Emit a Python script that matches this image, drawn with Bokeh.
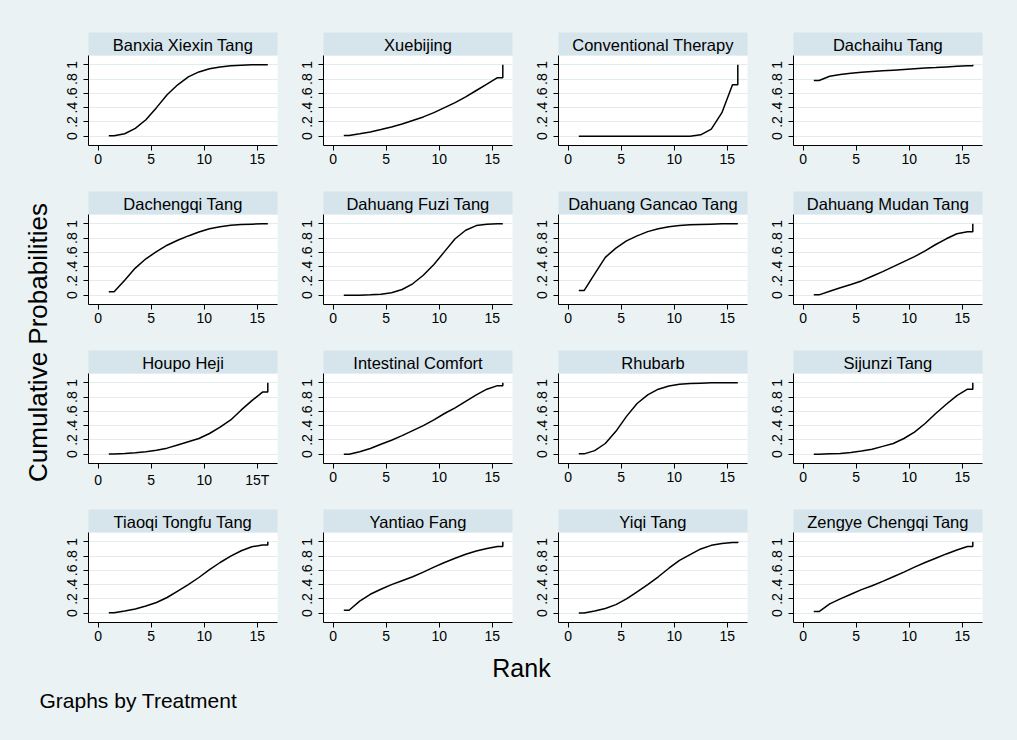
from bokeh.plotting import figure
from bokeh.models import LinearAxis, FixedTicker, Title, Range1d
from bokeh.layouts import gridplot, row, column
from bokeh.embed import file_html
from bokeh.resources import INLINE

# ---------------- data ----------------
treatments = [
    "Banxia Xiexin Tang", "Xuebijing", "Conventional Therapy", "Dachaihu Tang",
    "Dachengqi Tang", "Dahuang Fuzi Tang", "Dahuang Gancao Tang", "Dahuang Mudan Tang",
    "Houpo Heji", "Intestinal Comfort", "Rhubarb", "Sijunzi Tang",
    "Tiaoqi Tongfu Tang", "Yantiao Fang", "Yiqi Tang", "Zengye Chengqi Tang",
]
ranks = list(range(1, 17))

# cumulative probability of being ranked <= k, k = 1..15 (rank 16 -> 1)
cum_banxia = [0.005, 0.035, 0.11, 0.23, 0.40, 0.58, 0.72, 0.83, 0.90, 0.945, 0.97, 0.985, 0.995, 1.0, 1.0]
cum_xuebijing = [0.01, 0.033, 0.06, 0.094, 0.13, 0.17, 0.22, 0.27, 0.33, 0.40, 0.47, 0.55, 0.64, 0.73, 0.82]
cum_conventional = [0.0, 0.0, 0.0, 0.0, 0.0, 0.0, 0.0, 0.0, 0.0, 0.0, 0.0, 0.02, 0.10, 0.33, 0.72]
cum_dachaihu = [0.78, 0.84, 0.865, 0.88, 0.895, 0.905, 0.915, 0.925, 0.935, 0.945, 0.955, 0.962, 0.97, 0.978, 0.985]
cum_dachengqi = [0.047, 0.21, 0.38, 0.51, 0.61, 0.70, 0.77, 0.83, 0.885, 0.93, 0.96, 0.98, 0.99, 0.995, 1.0]
cum_fuzi = [0.0, 0.0, 0.005, 0.015, 0.035, 0.08, 0.16, 0.28, 0.43, 0.61, 0.79, 0.91, 0.975, 0.995, 1.0]
cum_gancao = [0.065, 0.30, 0.53, 0.66, 0.76, 0.83, 0.89, 0.93, 0.96, 0.975, 0.985, 0.99, 0.995, 1.0, 1.0]
cum_mudan = [0.005, 0.055, 0.105, 0.15, 0.20, 0.265, 0.33, 0.40, 0.47, 0.54, 0.62, 0.71, 0.79, 0.86, 0.89]
cum_houpo = [0.003, 0.01, 0.02, 0.035, 0.055, 0.085, 0.13, 0.175, 0.22, 0.29, 0.38, 0.48, 0.62, 0.75, 0.87]
cum_intestinal = [0.0, 0.035, 0.08, 0.14, 0.195, 0.26, 0.33, 0.40, 0.48, 0.57, 0.65, 0.74, 0.83, 0.91, 0.96]
cum_rhubarb = [0.005, 0.05, 0.15, 0.32, 0.53, 0.71, 0.83, 0.91, 0.955, 0.98, 0.99, 0.995, 1.0, 1.0, 1.0]
cum_sijunzi = [0.0, 0.005, 0.01, 0.025, 0.045, 0.07, 0.11, 0.15, 0.22, 0.31, 0.43, 0.57, 0.70, 0.82, 0.91]
cum_tiaoqi = [0.005, 0.03, 0.06, 0.10, 0.15, 0.22, 0.31, 0.40, 0.50, 0.61, 0.71, 0.80, 0.875, 0.93, 0.955]
cum_yantiao = [0.042, 0.17, 0.265, 0.335, 0.40, 0.455, 0.51, 0.575, 0.645, 0.71, 0.77, 0.825, 0.87, 0.905, 0.935]
cum_yiqi = [0.003, 0.03, 0.065, 0.12, 0.20, 0.30, 0.40, 0.51, 0.63, 0.74, 0.82, 0.90, 0.95, 0.975, 0.99]
cum_zengye = [0.023, 0.13, 0.20, 0.265, 0.33, 0.385, 0.445, 0.51, 0.575, 0.645, 0.71, 0.77, 0.83, 0.885, 0.935]

series = [cum_banxia, cum_xuebijing, cum_conventional, cum_dachaihu,
          cum_dachengqi, cum_fuzi, cum_gancao, cum_mudan,
          cum_houpo, cum_intestinal, cum_rhubarb, cum_sijunzi,
          cum_tiaoqi, cum_yantiao, cum_yiqi, cum_zengye]

x_ticks = [0, 5, 10, 15]
y_ticks = [0, 0.2, 0.4, 0.6, 0.8, 1]
y_tick_labels = ["0", ".2", ".4", ".6", ".8", "1"]

# ---------------- style ----------------
BG = "#EAF2F3"
STRIP = "#D6E4EB"
GRID = "#E2EBEE"
FONT = "Liberation Sans"
BGSTYLE = {"background-color": BG}


def make_panel(name, cum, r, c):
    top = 55 if r == 0 else 41
    bottom = 30 if r == 3 else 28
    left = 28 if c == 0 else 36
    right = 35 if c == 3 else 10
    p = figure(frame_width=189, frame_height=90,
               x_range=Range1d(-0.915, 16.915), y_range=Range1d(-0.13, 1.13),
               output_backend="svg", toolbar_location=None,
               min_border_left=left, min_border_right=right,
               min_border_top=top, min_border_bottom=bottom,
               background_fill_color="white", border_fill_color=BG,
               outline_line_color=None, styles=BGSTYLE)
    xs = [ranks[0]] + [k + 0.5 for k in ranks[:15]] + [ranks[-1], ranks[-1]]
    ys = [cum[0]] + list(cum) + [cum[-1], 1.0]
    p.line(xs, ys, line_color="black", line_width=1.5)

    p.xaxis.ticker = FixedTicker(ticks=x_ticks)
    p.yaxis.ticker = FixedTicker(ticks=y_ticks)
    p.yaxis.major_label_overrides = {t: l for t, l in zip(y_ticks, y_tick_labels)}
    if name == "Houpo Heji":
        p.xaxis.major_label_overrides = {15: "15T"}
    p.yaxis.major_label_orientation = "vertical"
    for ax in (p.xaxis[0], p.yaxis[0]):
        ax.axis_line_color = "black"
        ax.major_tick_line_color = "black"
        ax.minor_tick_line_color = None
        ax.major_tick_out = 5
        ax.major_tick_in = 0
        ax.major_label_text_font = FONT
        ax.major_label_text_font_size = "14px"
        ax.major_label_text_color = "black"
    p.xaxis.major_label_standoff = 3
    p.yaxis.major_label_standoff = 6
    p.xgrid.visible = False
    p.ygrid.ticker = FixedTicker(ticks=y_ticks)
    p.ygrid.grid_line_color = GRID
    p.ygrid.grid_line_width = 1.2

    strip = LinearAxis(ticker=FixedTicker(ticks=[]), axis_label=name,
                       axis_label_text_font=FONT, axis_label_text_font_size="16.5px",
                       axis_label_text_font_style="normal", axis_label_text_color="black",
                       axis_label_standoff=2, axis_line_color=None,
                       major_tick_line_color=None, minor_tick_line_color=None,
                       major_tick_out=0, major_tick_in=0,
                       background_fill_color=STRIP)
    p.add_layout(strip, "above")
    return p


panels = []
for i, (name, cum) in enumerate(zip(treatments, series)):
    panels.append(make_panel(name, cum, i // 4, i % 4))

grid = gridplot(panels, ncols=4, toolbar_location=None)
grid.styles = BGSTYLE


def blank(width, height, **kw):
    f = figure(width=width, height=height, output_backend="svg", toolbar_location=None,
               x_axis_location=None, y_axis_location=None,
               background_fill_color=BG, border_fill_color=BG, outline_line_color=None,
               styles=BGSTYLE, **kw)
    f.xgrid.visible = False
    f.ygrid.visible = False
    return f


# outer y label
ylab = blank(60, 652, min_border_left=57, min_border_right=0, min_border_top=32, min_border_bottom=0)
ylab.add_layout(Title(text="Cumulative Probabilities", align="center",
                      text_font=FONT, text_font_size="26px", text_font_style="normal",
                      text_color="black"), "left")

# bottom labels
xlab = blank(1017, 34, min_border_left=52, min_border_right=27, min_border_top=0, min_border_bottom=0)
xlab.add_layout(Title(text="Rank", align="center", text_font=FONT, text_font_size="25px",
                      text_font_style="normal", text_color="black"), "above")

note = blank(1017, 54, min_border_left=40, min_border_right=10, min_border_top=0, min_border_bottom=0)
note.add_layout(Title(text="Graphs by Treatment", align="left", offset=-13, standoff=1,
                      text_font=FONT, text_font_size="21px", text_font_style="normal",
                      text_color="black"), "above")

top_row = row(ylab, grid, styles=BGSTYLE)
layout = column(top_row, xlab, note, styles=BGSTYLE)

open("out.html", "w").write(file_html(layout, INLINE))
